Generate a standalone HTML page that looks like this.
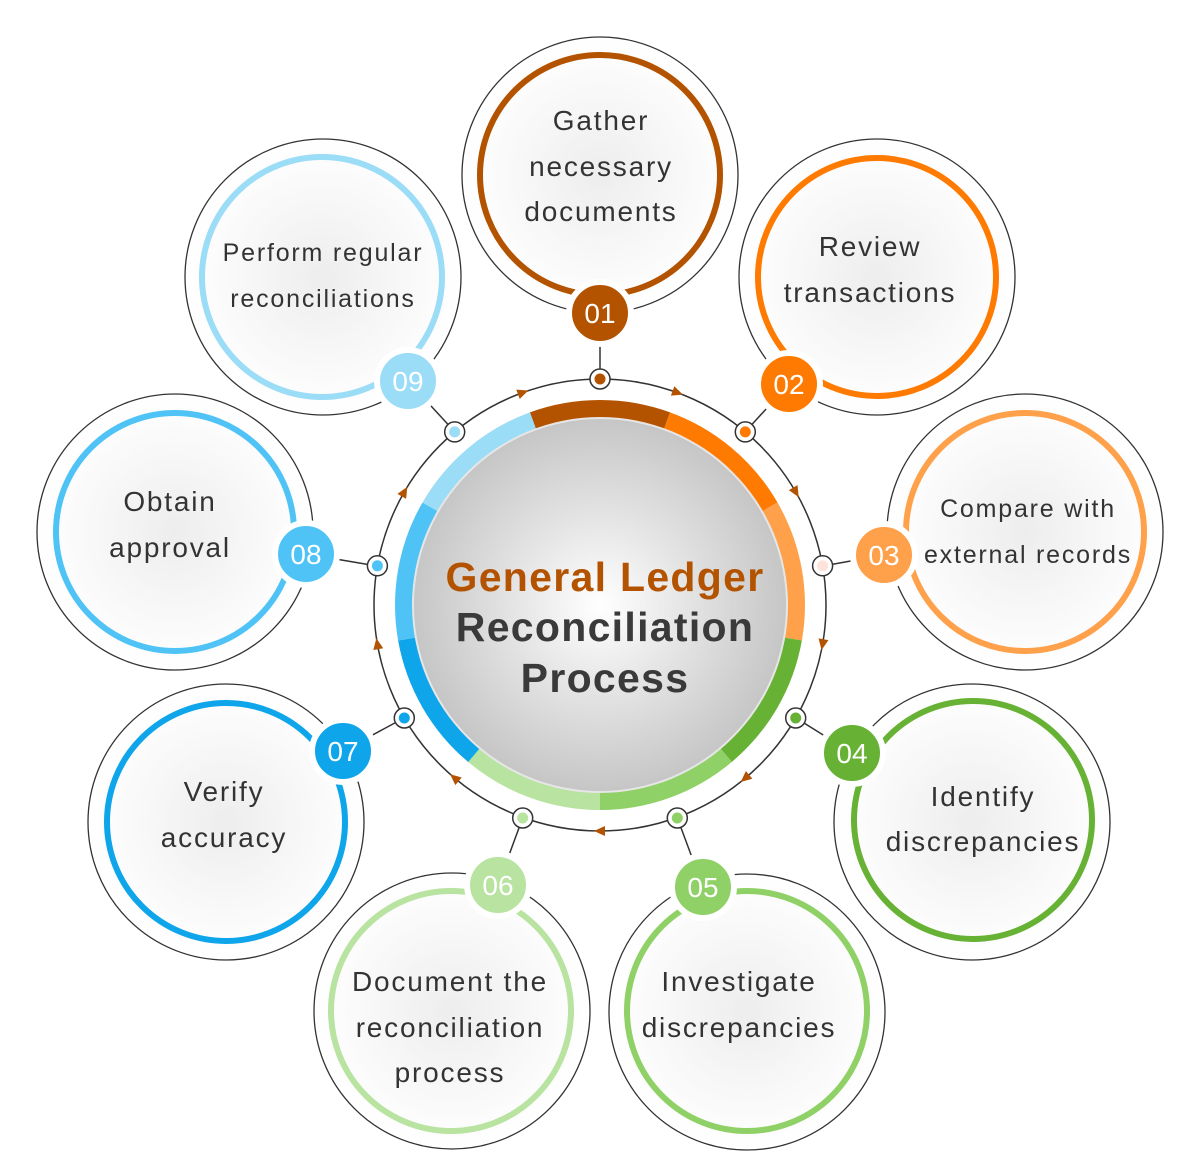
<!DOCTYPE html>
<html><head><meta charset="utf-8"><style>
html,body{margin:0;padding:0;background:#fff}
svg{display:block}
text{font-family:"Liberation Sans",sans-serif}
</style></head><body>
<svg width="1200" height="1174" viewBox="0 0 1200 1174" xmlns="http://www.w3.org/2000/svg">
<defs>
<radialGradient id="sg" cx="50%" cy="50%" r="50%"><stop offset="0" stop-color="#ededed"/><stop offset="0.6" stop-color="#f8f8f8"/><stop offset="1" stop-color="#ffffff"/></radialGradient>
<radialGradient id="cg" cx="50%" cy="50%" r="50%"><stop offset="0" stop-color="#ffffff"/><stop offset="1" stop-color="#c6c6c6"/></radialGradient>
</defs>

<circle cx="600" cy="605" r="226" fill="none" stroke="#333" stroke-width="1.5"/>

<g stroke="#333" stroke-width="1.5">
<line x1="600" y1="379" x2="600" y2="313"/>
<line x1="745" y1="432" x2="789" y2="384"/>
<line x1="823" y1="566" x2="884" y2="555"/>
<line x1="796" y1="718" x2="852" y2="753"/>
<line x1="677" y1="817" x2="703" y2="887"/>
<line x1="523" y1="817" x2="498" y2="885"/>
<line x1="404" y1="718" x2="343" y2="751"/>
<line x1="377" y1="566" x2="306" y2="554"/>
<line x1="455" y1="432" x2="408" y2="381"/>
</g>

<g fill="none" stroke-width="18">
<path d="M533,420.8 A196,196 0 0 1 667,420.8" stroke="#b35300"/>
<path d="M667,420.8 A196,196 0 0 1 769.7,507" stroke="#ff7a00"/>
<path d="M769.7,507 A196,196 0 0 1 793,639" stroke="#ffa04a"/>
<path d="M793,639 A196,196 0 0 1 726,755.1" stroke="#67b234"/>
<path d="M726,755.1 A196,196 0 0 1 600,801" stroke="#8fd166"/>
<path d="M600,801 A196,196 0 0 1 474,755.1" stroke="#b8e3a0"/>
<path d="M474,755.1 A196,196 0 0 1 407,639" stroke="#0ea5ea"/>
<path d="M407,639 A196,196 0 0 1 430.3,507" stroke="#4fc3f5"/>
<path d="M430.3,507 A196,196 0 0 1 533,420.8" stroke="#9bdcf7"/>
</g>
<circle cx="600" cy="605" r="188" fill="#e6e6e6"/>
<circle cx="600" cy="605" r="186" fill="url(#cg)"/>

<g fill="#b35300">
<path d="M6,0 L-5,-5 L-5,5Z" transform="translate(677.3,392.6) rotate(20)"/>
<path d="M6,0 L-5,-5 L-5,5Z" transform="translate(795.7,492) rotate(60)"/>
<path d="M6,0 L-5,-5 L-5,5Z" transform="translate(822.6,644.2) rotate(100)"/>
<path d="M6,0 L-5,-5 L-5,5Z" transform="translate(745.3,778.1) rotate(140)"/>
<path d="M6,0 L-5,-5 L-5,5Z" transform="translate(600,831) rotate(180)"/>
<path d="M6,0 L-5,-5 L-5,5Z" transform="translate(454.7,778.1) rotate(220)"/>
<path d="M6,0 L-5,-5 L-5,5Z" transform="translate(377.4,644.2) rotate(260)"/>
<path d="M6,0 L-5,-5 L-5,5Z" transform="translate(404.3,492) rotate(300)"/>
<path d="M6,0 L-5,-5 L-5,5Z" transform="translate(522.7,392.6) rotate(340)"/>
</g>

<g stroke="#333" stroke-width="1.5" fill="#fff">
<circle cx="600" cy="379" r="10"/><circle cx="745.3" cy="431.9" r="10"/><circle cx="822.6" cy="565.8" r="10"/>
<circle cx="795.7" cy="718" r="10"/><circle cx="677.3" cy="818" r="10"/><circle cx="522.7" cy="818" r="10"/>
<circle cx="404.3" cy="718" r="10"/><circle cx="377.4" cy="565.8" r="10"/><circle cx="454.7" cy="431.9" r="10"/>
</g>
<circle cx="600" cy="379" r="5.5" fill="#b35300"/>
<circle cx="745.3" cy="431.9" r="5.5" fill="#ff7a00"/>
<circle cx="822.6" cy="565.8" r="5.5" fill="#fde3da"/>
<circle cx="795.7" cy="718" r="5.5" fill="#67b234"/>
<circle cx="677.3" cy="818" r="5.5" fill="#8fd166"/>
<circle cx="522.7" cy="818" r="5.5" fill="#b8e3a0"/>
<circle cx="404.3" cy="718" r="5.5" fill="#0ea5ea"/>
<circle cx="377.4" cy="565.8" r="5.5" fill="#4fc3f5"/>
<circle cx="454.7" cy="431.9" r="5.5" fill="#9bdcf7"/>

<g text-anchor="middle" font-weight="bold" font-size="41" letter-spacing="1.3">
<text x="605" y="591" fill="#b35300">General Ledger</text>
<text x="605" y="641" fill="#3a3a3a">Reconciliation</text>
<text x="605" y="692" fill="#3a3a3a">Process</text>
</g>

<g fill="url(#sg)" stroke="#333" stroke-width="1.3">
<circle cx="600" cy="175" r="138"/><circle cx="877" cy="277" r="138"/><circle cx="1025" cy="532" r="138"/>
<circle cx="972" cy="822" r="138"/><circle cx="747" cy="1012" r="138"/><circle cx="452" cy="1011" r="138"/>
<circle cx="226" cy="822" r="138"/><circle cx="175" cy="532" r="138"/><circle cx="323" cy="277" r="138"/>
</g>
<g fill="none" stroke-width="6">
<circle cx="600" cy="175" r="120" stroke="#b35300"/>
<circle cx="877" cy="277" r="119" stroke="#ff7a00"/>
<circle cx="1025" cy="532" r="119" stroke="#ffa04a"/>
<circle cx="973" cy="820" r="119" stroke="#67b234"/>
<circle cx="747" cy="1011" r="120" stroke="#8fd166"/>
<circle cx="451" cy="1011" r="120" stroke="#b8e3a0"/>
<circle cx="226" cy="822" r="119" stroke="#0ea5ea"/>
<circle cx="175" cy="532" r="119" stroke="#4fc3f5"/>
<circle cx="322" cy="277" r="120" stroke="#9bdcf7"/>
</g>

<g stroke="#fff" stroke-width="6">
<circle cx="600" cy="313" r="31" fill="#b35300"/>
<circle cx="789" cy="384" r="31" fill="#ff7a00"/>
<circle cx="884" cy="555" r="31" fill="#ffa04a"/>
<circle cx="852" cy="753" r="31" fill="#67b234"/>
<circle cx="703" cy="887" r="31" fill="#8fd166"/>
<circle cx="498" cy="885" r="31" fill="#b8e3a0"/>
<circle cx="343" cy="751" r="31" fill="#0ea5ea"/>
<circle cx="306" cy="554" r="31" fill="#4fc3f5"/>
<circle cx="408" cy="381" r="31" fill="#9bdcf7"/>
</g>
<g fill="#fff" font-size="28" text-anchor="middle">
<text x="600" y="323">01</text><text x="789" y="394">02</text><text x="884" y="565">03</text>
<text x="852" y="763">04</text><text x="703" y="897">05</text><text x="498" y="895">06</text>
<text x="343" y="761">07</text><text x="306" y="564">08</text><text x="408" y="391">09</text>
</g>

<g fill="#333" font-size="28" text-anchor="middle" letter-spacing="1.8">
<text x="601" y="130">Gather</text><text x="601" y="176">necessary</text><text x="601" y="221">documents</text>
<text x="870" y="256">Review</text><text x="870" y="302">transactions</text>
<text x="1028" y="517" font-size="25" letter-spacing="1.8">Compare with</text><text x="1028" y="563" font-size="25" letter-spacing="1.8">external records</text>
<text x="983" y="806">Identify</text><text x="983" y="851">discrepancies</text>
<text x="739" y="991">Investigate</text><text x="739" y="1037">discrepancies</text>
<text x="450" y="991">Document the</text><text x="450" y="1037">reconciliation</text><text x="450" y="1082">process</text>
<text x="224" y="801">Verify</text><text x="224" y="847">accuracy</text>
<text x="170" y="511">Obtain</text><text x="170" y="557">approval</text>
<text x="323" y="261" font-size="25" letter-spacing="1.8">Perform regular</text><text x="323" y="307" font-size="25" letter-spacing="1.8">reconciliations</text>
</g>
</svg>
</body></html>
